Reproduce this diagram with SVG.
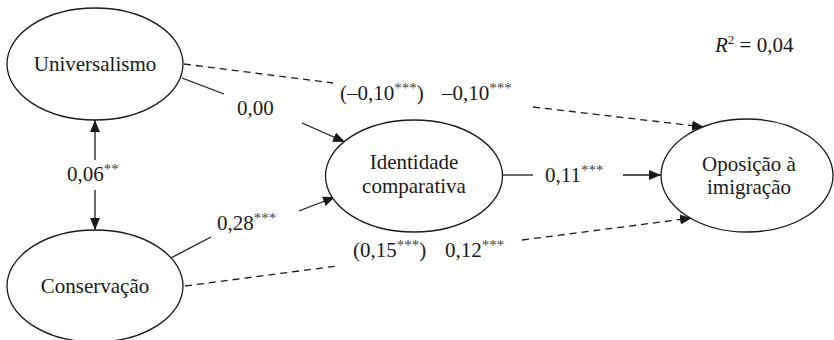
<svg xmlns="http://www.w3.org/2000/svg" width="834" height="340" viewBox="0 0 834 340">
<style>
  .node ellipse { fill: #fff; stroke: #1a1a1a; stroke-width: 1.3; }
  text { font-family: "Liberation Serif", "DejaVu Serif", serif; font-size: 21px; fill: #1a1a1a; }
  .nt { text-anchor: middle; }
  .s { font-size: 15px; fill: #444; }
  .ln { stroke: #1a1a1a; stroke-width: 1.3; fill: none; }
  .dash { stroke-dasharray: 7 5; }
</style>
<defs>
  <marker id="arr" markerUnits="userSpaceOnUse" markerWidth="13" markerHeight="11" refX="12" refY="5" orient="auto-start-reverse" viewBox="0 0 13 11">
    <path d="M0,0 L12,5 L0,10 Z" fill="#1a1a1a" stroke="none"/>
  </marker>
</defs>

<rect width="834" height="340" fill="#fff"/>

<g id="connectors">
  <line class="ln" x1="95" y1="120" x2="95" y2="160" marker-start="url(#arr)"/>
  <line class="ln" x1="95" y1="190" x2="95" y2="230" marker-end="url(#arr)"/>
  <line class="ln" x1="182" y1="78" x2="224" y2="94"/>
  <line class="ln" x1="302" y1="123" x2="345" y2="142" marker-end="url(#arr)"/>
  <line class="ln" x1="167" y1="260" x2="211" y2="237"/>
  <line class="ln" x1="299" y1="211" x2="335" y2="197" marker-end="url(#arr)"/>
  <line class="ln dash" x1="184" y1="64" x2="333" y2="83"/>
  <line class="ln dash" x1="533" y1="107" x2="704" y2="127" marker-end="url(#arr)"/>
  <line class="ln dash" x1="185" y1="286" x2="337" y2="266"/>
  <line class="ln dash" x1="522" y1="240" x2="692" y2="218" marker-end="url(#arr)"/>
  <line class="ln" x1="502" y1="175" x2="533" y2="175"/>
  <line class="ln" x1="623" y1="175" x2="661" y2="175" marker-end="url(#arr)"/>
</g>

<g id="labels" font-family="Liberation Serif, DejaVu Serif, serif">
  <text x="67" y="181">0,06<tspan class="s" dy="-7">**</tspan></text>
  <text x="237" y="115">0,00</text>
  <text x="217" y="230">0,28<tspan class="s" dy="-7">***</tspan></text>
  <text x="545" y="182">0,11<tspan class="s" dy="-7">***</tspan></text>
  <text x="340" y="100">(–0,10<tspan class="s" dy="-7">***</tspan><tspan dy="7">)</tspan></text>
  <text x="442" y="100">–0,10<tspan class="s" dy="-7">***</tspan></text>
  <text x="353" y="257">(0,15<tspan class="s" dy="-7">***</tspan><tspan dy="7">)</tspan></text>
  <text x="445" y="257">0,12<tspan class="s" dy="-7">***</tspan></text>
  <text x="715" y="52"><tspan font-style="italic">R</tspan><tspan font-size="13" dy="-8">2</tspan><tspan dy="8"> = 0,04</tspan></text>
</g>

<g id="universalismo" class="node">
  <ellipse cx="95" cy="64" rx="88" ry="56"/>
  <text class="nt" x="95" y="71">Universalismo</text>
</g>
<g id="conservacao" class="node">
  <ellipse cx="95" cy="286" rx="88" ry="56"/>
  <text class="nt" x="95" y="293">Conservação</text>
</g>
<g id="identidade" class="node">
  <ellipse cx="414" cy="176" rx="88.5" ry="56"/>
  <text class="nt" x="414" y="169">Identidade</text>
  <text class="nt" x="414" y="193">comparativa</text>
</g>
<g id="oposicao" class="node">
  <ellipse cx="747" cy="175.5" rx="86" ry="56.5"/>
  <text class="nt" x="749" y="171">Oposição à</text>
  <text class="nt" x="749" y="194">imigração</text>
</g>
</svg>
